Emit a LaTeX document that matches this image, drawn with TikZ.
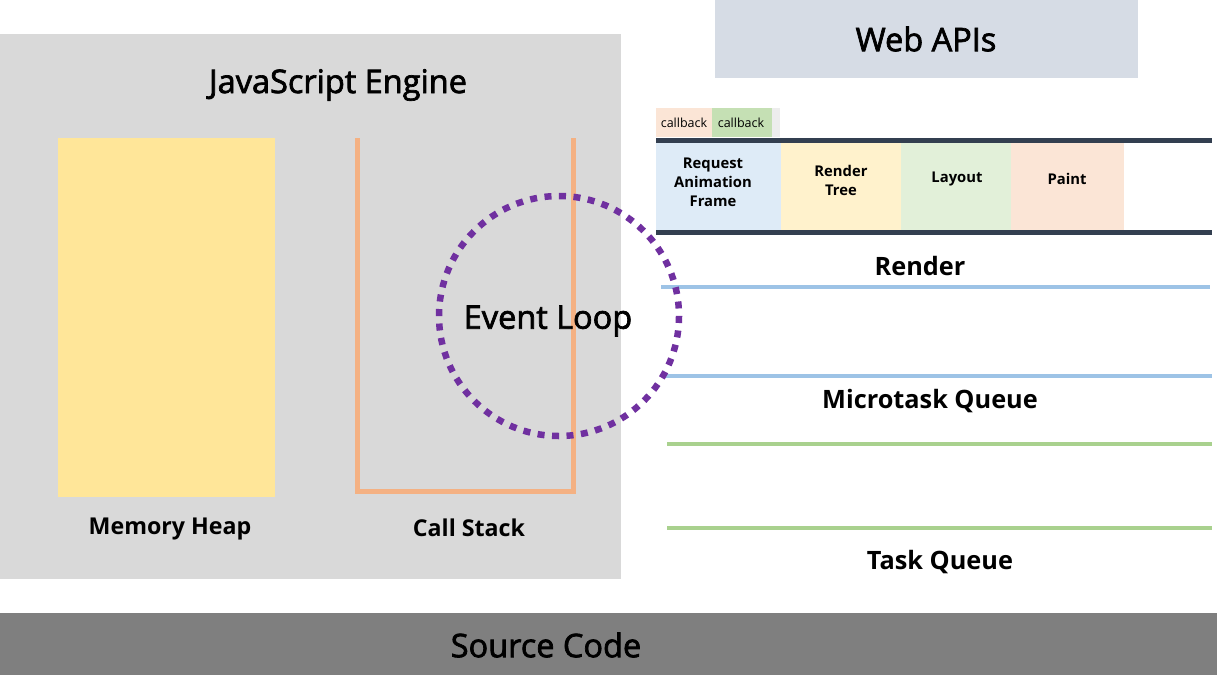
\documentclass[tikz,border=0pt]{standalone}
\usepackage{fontspec}
\setmainfont{Open Sans}
\newcommand\heavytext[1]{\special{pdf:literal q 2 Tr 0.7 w}#1\special{pdf:literal Q}}
\definecolor{enggray}{HTML}{D9D9D9}
\definecolor{heapc}{HTML}{FFE699}
\definecolor{stackc}{HTML}{F4B183}
\definecolor{loopc}{HTML}{7030A0}
\definecolor{webc}{HTML}{D6DCE5}
\definecolor{srcc}{HTML}{7F7F7F}
\definecolor{barc}{HTML}{333F50}
\definecolor{rafc}{HTML}{DEEBF7}
\definecolor{rtc}{HTML}{FFF2CC}
\definecolor{layc}{HTML}{E2F0D9}
\definecolor{paintc}{HTML}{FBE5D6}
\definecolor{cbgray}{HTML}{EDEDED}
\definecolor{cbgreen}{HTML}{C5E0B4}
\definecolor{blueq}{HTML}{9DC3E6}
\definecolor{greenq}{HTML}{A9D18E}
\tikzset{
  title/.style={font=\fontsize{32.5}{36}\selectfont, inner sep=0pt},
  label/.style={font=\bfseries\fontsize{23.2}{27}\selectfont, inner sep=0pt},
  biglabel/.style={font=\bfseries\fontsize{25.3}{29}\selectfont, inner sep=0pt},
  small/.style={font=\bfseries\fontsize{14.8}{19}\selectfont, inner sep=0pt, align=center},
  cb/.style={font=\fontsize{12.5}{14}\selectfont, inner sep=0pt},
  darkbar/.style={barc, line width=5pt},
  qline/.style={line width=4pt},
}
\begin{document}
\begin{tikzpicture}[x=1pt,y=-1pt]
\useasboundingbox[fill=white] (0,0) rectangle (1217,683);
% engine
\fill[enggray] (0,34) rectangle (621,579);
\node[title] (jse) at (338,85) {\heavytext{JavaScript Engine}};
\fill[heapc] (58,138) rectangle (275,497);
\node[label] (heap) at (170,529) {Memory Heap};
\draw[stackc, line width=5pt] (357,138) -- (357,491) -- (573,491) -- (573,138);
\node[label] (stack) at (469,528) {Call Stack};
% web apis
\fill[webc] (715,0) rectangle (1138,78);
\node[title] (web) at (926,39) {\heavytext{Web APIs}};
% callbacks
\fill[cbgray] (656,108) rectangle (780,137);
\fill[paintc] (656,108) rectangle (712,137);
\fill[cbgreen] (712,108) rectangle (772,137);
\node[cb] (cb1) at (684,123) {callback};
\node[cb] (cb2) at (741,123) {callback};
% render boxes
\fill[rafc] (656,143) rectangle (781,230);
\fill[rtc] (781,143) rectangle (901,230);
\fill[layc] (901,143) rectangle (1011,230);
\fill[paintc] (1011,143) rectangle (1124,230);
\node[small] (raf) at (713,182) {Request\\Animation\\Frame};
\node[small] (rt) at (841,180) {Render\\Tree};
\node[small] (lay) at (957,179) {Layout};
\node[small] (paint) at (1067,179) {Paint};
\draw[darkbar] (656,140.5) -- (1212,140.5);
\draw[darkbar] (656,232.5) -- (1212,232.5);
\node[biglabel] (render) at (920,266) {Render};
% queues
\draw[qline, blueq] (661,287) -- (1210,287);
\draw[qline, blueq] (664,376) -- (1212,376);
\node[biglabel] (micro) at (930,401) {Microtask Queue};
\draw[qline, greenq] (667,443.5) -- (1212,443.5);
\draw[qline, greenq] (667,527.5) -- (1212,527.5);
\node[biglabel] (task) at (940,562) {Task Queue};
% source code
\fill[srcc] (0,613) rectangle (1217,675);
\node[title] (src) at (546,645) {\heavytext{Source Code}};
% event loop
\draw[loopc, line width=6.5pt, dash pattern=on 7pt off 7.5pt] (559,316) circle[radius=120];
\node[title] (loop) at (548,321) {\heavytext{Event Loop}};
\end{tikzpicture}
\end{document}
